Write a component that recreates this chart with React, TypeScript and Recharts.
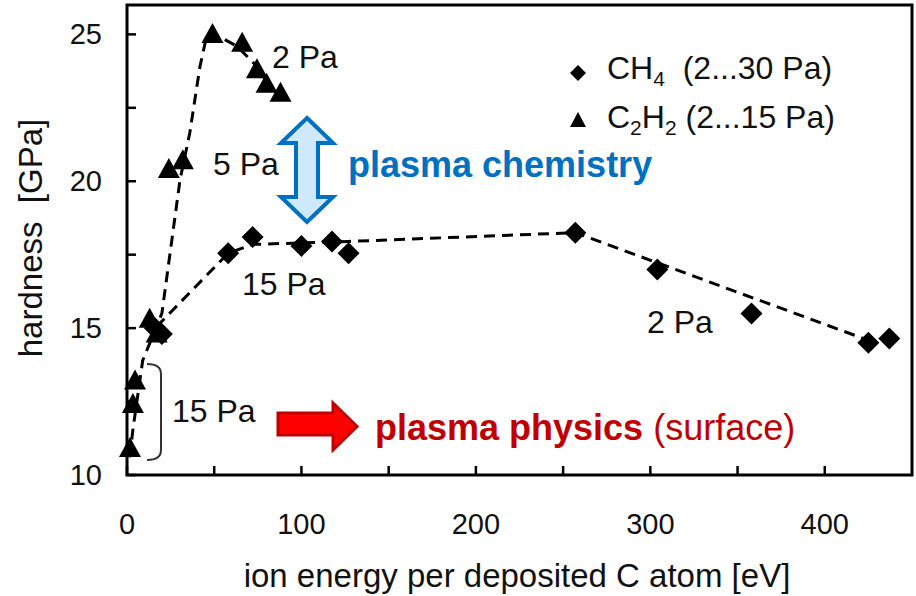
import React from 'react';
import { ScatterChart, Scatter, XAxis, YAxis, ReferenceArea } from 'recharts';

const FONT = '"Liberation Sans", Arial, Helvetica, sans-serif';

// CH4 measured points (ion energy per C atom [eV], hardness [GPa])
const ch4Energy = [16, 20, 58, 72, 100, 117.5, 127, 257, 304, 358, 425, 437];
const ch4Hardness = [15.0, 14.8, 17.55, 18.1, 17.8, 17.95, 17.55, 18.25, 17.0, 15.5, 14.5, 14.65];

// C2H2 measured points
const c2h2Energy = [1.7, 3.4, 4.6, 13, 17, 24, 32, 49, 66, 74.5, 80, 88];
const c2h2Hardness = [10.9, 12.4, 13.2, 15.3, 14.8, 20.4, 20.7, 25.0, 24.7, 23.8, 23.3, 23.0];

// dashed guide lines
const ch4TrendEnergy = [17, 58, 72, 127, 257, 422];
const ch4TrendHardness = [15.05, 17.55, 17.85, 17.95, 18.25, 14.65];
const c2h2TrendEnergy = [1.5, 3.5, 9, 20, 30.4, 36, 41.8, 45.5, 49, 63, 73, 80];
const c2h2TrendHardness = [10.6, 11.6, 13.9, 15.5, 20.05, 21.65, 23.9, 24.9, 25.05, 24.6, 24.0, 23.4];

const xTicks = [0, 50, 100, 150, 200, 250, 300, 350, 400];
const xTickLabels = [0, 100, 200, 300, 400];
const yTicks = [10, 12.5, 15, 17.5, 20, 22.5, 25];
const yTickLabels = [10, 15, 20, 25];

const zip = (xs: number[], ys: number[]) => xs.map((x, i) => ({ x, y: ys[i] }));
const ch4Data = zip(ch4Energy, ch4Hardness);
const c2h2Data = zip(c2h2Energy, c2h2Hardness);
const ch4Trend = zip(ch4TrendEnergy, ch4TrendHardness);
const c2h2Trend = zip(c2h2TrendEnergy, c2h2TrendHardness);

const Diamond = (p: any) => {
  const { cx, cy } = p;
  const r = 11;
  return <polygon points={`${cx},${cy - r} ${cx + r},${cy} ${cx},${cy + r} ${cx - r},${cy}`} fill="#000" />;
};
const Triangle = (p: any) => {
  const { cx, cy } = p;
  return <polygon points={`${cx},${cy - 11.5} ${cx + 11},${cy + 8.5} ${cx - 11},${cy + 8.5}`} fill="#000" />;
};
const NoShape = () => <g />;

const XTick = (p: any) => {
  const { x, y, payload } = p;
  const v = payload.value;
  return (
    <g>
      <line x1={x} x2={x} y1={y} y2={y - 9} stroke="#000" strokeWidth={2.5} />
      {xTickLabels.includes(v) && (
        <text x={x} y={y + 49} textAnchor="middle" dominantBaseline="central" fontSize={29} fontFamily={FONT} fill="#111">
          {v}
        </text>
      )}
    </g>
  );
};
const YTick = (p: any) => {
  const { x, y, payload } = p;
  const v = payload.value;
  return (
    <g>
      <line x1={x} x2={x + 9} y1={y} y2={y} stroke="#000" strokeWidth={2.5} />
      {yTickLabels.includes(v) && (
        <text x={x - 25} y={y} textAnchor="end" dominantBaseline="central" fontSize={29} fontFamily={FONT} fill="#111">
          {v}
        </text>
      )}
    </g>
  );
};

const dash = { stroke: '#000', strokeWidth: 3, strokeDasharray: '11 7', fill: 'none' };

export default function App() {
  return (
    <div style={{ position: 'absolute', left: 0, top: 0, width: 916, height: 596, background: '#fff' }}>
      <ScatterChart width={916} height={596} margin={{ top: 5, right: 4, bottom: 0, left: 0 }}>
        <XAxis
          type="number"
          dataKey="x"
          domain={[0, 450]}
          ticks={xTicks}
          tick={<XTick />}
          tickSize={0}
          tickMargin={0}
          axisLine={false}
          tickLine={false}
          height={121}
          interval={0}
        />
        <YAxis
          type="number"
          dataKey="y"
          domain={[10, 26]}
          ticks={yTicks}
          tick={<YTick />}
          tickSize={0}
          tickMargin={0}
          axisLine={false}
          tickLine={false}
          width={127}
          interval={0}
        />
        <ReferenceArea x1={0} x2={450} y1={10} y2={26} fill="none" stroke="#000" strokeWidth={3} ifOverflow="visible" />
        <Scatter data={c2h2Trend} line={dash} shape={NoShape} isAnimationActive={false} />
        <Scatter data={ch4Trend} line={dash} shape={NoShape} isAnimationActive={false} />
        <Scatter data={ch4Data} shape={Diamond} isAnimationActive={false} />
        <Scatter data={c2h2Data} shape={Triangle} isAnimationActive={false} />
      </ScatterChart>
      <svg width={916} height={596} style={{ position: 'absolute', left: 0, top: 0, pointerEvents: 'none' }} fontFamily={FONT}>
        {/* axis titles */}
        <text x={30} y={238} transform="rotate(-90 30 238)" textAnchor="middle" dominantBaseline="central" fontSize={33} fill="#111" style={{ whiteSpace: 'pre' }}>
          {'hardness  [GPa]'}
        </text>
        <text x={517} y={575} textAnchor="middle" dominantBaseline="central" fontSize={33} fill="#111">
          ion energy per deposited C atom [eV]
        </text>
        {/* legend */}
        <polygon points="578,65 586,73 578,81 570,73" fill="#000" />
        <text x={607} y={79} fontSize={32} fill="#111" style={{ whiteSpace: 'pre' }}>
          CH<tspan fontSize={21} dy={7}>4</tspan>
          <tspan dy={-7}>{'  (2...30 Pa)'}</tspan>
        </text>
        <polygon points="578,112 586,127 570,127" fill="#000" />
        <text x={607} y={128} fontSize={32} fill="#111" style={{ whiteSpace: 'pre' }}>
          C<tspan fontSize={21} dy={7}>2</tspan>
          <tspan dy={-7}>H</tspan>
          <tspan fontSize={21} dy={7}>2</tspan>
          <tspan dy={-7}>{' (2...15 Pa)'}</tspan>
        </text>
        {/* pressure annotations */}
        <text x={272} y={68} fontSize={32} fill="#111">2 Pa</text>
        <text x={213} y={175} fontSize={32} fill="#111">5 Pa</text>
        <text x={242} y={295} fontSize={32} fill="#111">15 Pa</text>
        <text x={172} y={422} fontSize={32} fill="#111">15 Pa</text>
        <text x={647} y={333} fontSize={32} fill="#111">2 Pa</text>
        {/* bracket */}
        <path d="M147,364 Q161,364 161,374 L161,450 Q161,460 147,460" fill="none" stroke="#333" strokeWidth={2} />
        {/* blue double arrow */}
        <polygon
          points="307,118 333,143 318,143 318,197 333,197 307,222 281,197 296,197 296,143 281,143"
          fill="#cde9fb"
          stroke="#0070c0"
          strokeWidth={4}
          strokeLinejoin="miter"
        />
        <text x={348} y={177} fontSize={36} fontWeight="bold" fill="#0070c0">plasma chemistry</text>
        {/* red arrow */}
        <polygon
          points="278,413 333,413 333,403 357,426.5 333,450 333,435 278,435"
          fill="#ff0000"
          stroke="#c00000"
          strokeWidth={3}
        />
        <text x={375} y={440} fontSize={36} fill="#c00000" style={{ whiteSpace: 'pre' }}>
          <tspan fontWeight="bold">plasma physics</tspan>
          <tspan>{' (surface)'}</tspan>
        </text>
      </svg>
    </div>
  );
}
